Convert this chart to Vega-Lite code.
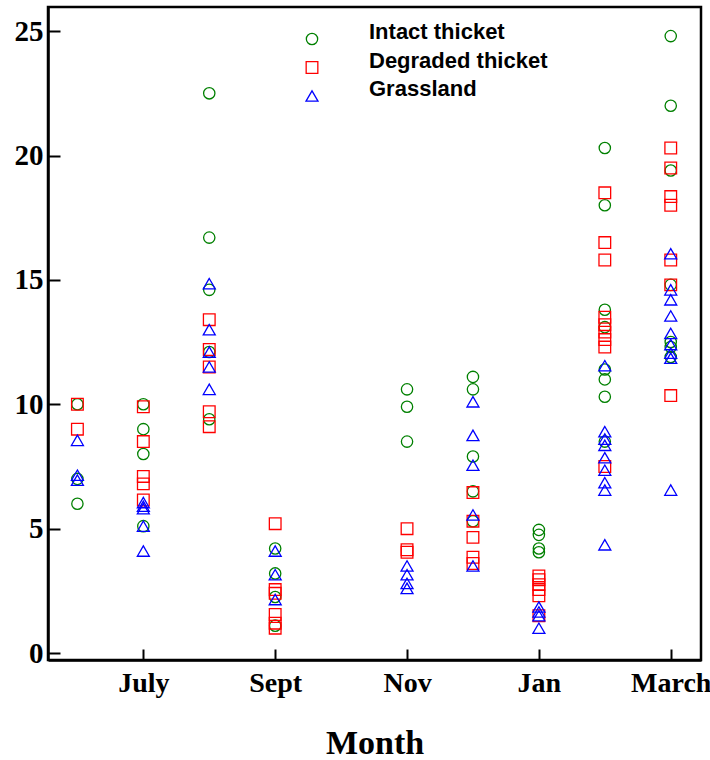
{
  "$schema": "https://vega.github.io/schema/vega-lite/v6.json",
  "autosize": {"type": "none"},
  "padding": {"left": 48, "top": 7, "right": 9, "bottom": 100},
  "width": 653,
  "height": 653,
  "background": "white",
  "config": {
    "view": {"stroke": "black", "strokeWidth": 2.5},
    "axis": {
      "grid": false,
      "domainColor": "black",
      "domainWidth": 2.5,
      "tickColor": "black",
      "tickWidth": 2,
      "labelColor": "black",
      "labelFont": "Liberation Serif",
      "labelFontWeight": "bold",
      "titleColor": "black",
      "titleFont": "Liberation Serif",
      "titleFontWeight": "bold"
    }
  },
  "data": {
    "values": [
      {"m": 0, "site": "Intact thicket", "v": 10.0},
      {"m": 0, "site": "Intact thicket", "v": 7.0},
      {"m": 0, "site": "Intact thicket", "v": 6.0},
      {"m": 0, "site": "Degraded thicket", "v": 10.0},
      {"m": 0, "site": "Degraded thicket", "v": 9.0},
      {"m": 0, "site": "Grassland", "v": 8.55},
      {"m": 0, "site": "Grassland", "v": 7.15},
      {"m": 0, "site": "Grassland", "v": 6.95},

      {"m": 1, "site": "Intact thicket", "v": 10.0},
      {"m": 1, "site": "Intact thicket", "v": 9.0},
      {"m": 1, "site": "Intact thicket", "v": 8.0},
      {"m": 1, "site": "Intact thicket", "v": 5.1},
      {"m": 1, "site": "Degraded thicket", "v": 9.9},
      {"m": 1, "site": "Degraded thicket", "v": 8.5},
      {"m": 1, "site": "Degraded thicket", "v": 7.1},
      {"m": 1, "site": "Degraded thicket", "v": 6.8},
      {"m": 1, "site": "Degraded thicket", "v": 6.15},
      {"m": 1, "site": "Grassland", "v": 6.05},
      {"m": 1, "site": "Grassland", "v": 5.9},
      {"m": 1, "site": "Grassland", "v": 5.8},
      {"m": 1, "site": "Grassland", "v": 5.1},
      {"m": 1, "site": "Grassland", "v": 4.1},

      {"m": 2, "site": "Intact thicket", "v": 22.5},
      {"m": 2, "site": "Intact thicket", "v": 16.7},
      {"m": 2, "site": "Intact thicket", "v": 14.6},
      {"m": 2, "site": "Intact thicket", "v": 12.1},
      {"m": 2, "site": "Intact thicket", "v": 9.4},
      {"m": 2, "site": "Degraded thicket", "v": 13.4},
      {"m": 2, "site": "Degraded thicket", "v": 12.2},
      {"m": 2, "site": "Degraded thicket", "v": 11.5},
      {"m": 2, "site": "Degraded thicket", "v": 9.7},
      {"m": 2, "site": "Degraded thicket", "v": 9.1},
      {"m": 2, "site": "Grassland", "v": 14.85},
      {"m": 2, "site": "Grassland", "v": 13.0},
      {"m": 2, "site": "Grassland", "v": 12.1},
      {"m": 2, "site": "Grassland", "v": 11.5},
      {"m": 2, "site": "Grassland", "v": 10.6},

      {"m": 3, "site": "Intact thicket", "v": 4.2},
      {"m": 3, "site": "Intact thicket", "v": 3.2},
      {"m": 3, "site": "Intact thicket", "v": 2.25},
      {"m": 3, "site": "Intact thicket", "v": 1.1},
      {"m": 3, "site": "Degraded thicket", "v": 5.2},
      {"m": 3, "site": "Degraded thicket", "v": 2.55},
      {"m": 3, "site": "Degraded thicket", "v": 2.4},
      {"m": 3, "site": "Degraded thicket", "v": 1.55},
      {"m": 3, "site": "Degraded thicket", "v": 1.2},
      {"m": 3, "site": "Degraded thicket", "v": 1.0},
      {"m": 3, "site": "Grassland", "v": 4.1},
      {"m": 3, "site": "Grassland", "v": 3.15},
      {"m": 3, "site": "Grassland", "v": 2.15},

      {"m": 5, "site": "Intact thicket", "v": 10.6},
      {"m": 5, "site": "Intact thicket", "v": 9.9},
      {"m": 5, "site": "Intact thicket", "v": 8.5},
      {"m": 5, "site": "Degraded thicket", "v": 5.0},
      {"m": 5, "site": "Degraded thicket", "v": 4.15},
      {"m": 5, "site": "Degraded thicket", "v": 4.05},
      {"m": 5, "site": "Grassland", "v": 3.5},
      {"m": 5, "site": "Grassland", "v": 3.15},
      {"m": 5, "site": "Grassland", "v": 2.8},
      {"m": 5, "site": "Grassland", "v": 2.6},

      {"m": 6, "site": "Intact thicket", "v": 11.1},
      {"m": 6, "site": "Intact thicket", "v": 10.6},
      {"m": 6, "site": "Intact thicket", "v": 7.9},
      {"m": 6, "site": "Intact thicket", "v": 6.5},
      {"m": 6, "site": "Intact thicket", "v": 5.3},
      {"m": 6, "site": "Degraded thicket", "v": 6.45},
      {"m": 6, "site": "Degraded thicket", "v": 5.3},
      {"m": 6, "site": "Degraded thicket", "v": 4.65},
      {"m": 6, "site": "Degraded thicket", "v": 3.85},
      {"m": 6, "site": "Degraded thicket", "v": 3.6},
      {"m": 6, "site": "Grassland", "v": 10.1},
      {"m": 6, "site": "Grassland", "v": 8.75},
      {"m": 6, "site": "Grassland", "v": 7.55},
      {"m": 6, "site": "Grassland", "v": 5.55},
      {"m": 6, "site": "Grassland", "v": 3.5},

      {"m": 7, "site": "Intact thicket", "v": 4.95},
      {"m": 7, "site": "Intact thicket", "v": 4.75},
      {"m": 7, "site": "Intact thicket", "v": 4.2},
      {"m": 7, "site": "Intact thicket", "v": 4.05},
      {"m": 7, "site": "Degraded thicket", "v": 3.1},
      {"m": 7, "site": "Degraded thicket", "v": 2.95},
      {"m": 7, "site": "Degraded thicket", "v": 2.75},
      {"m": 7, "site": "Degraded thicket", "v": 2.55},
      {"m": 7, "site": "Degraded thicket", "v": 2.3},
      {"m": 7, "site": "Degraded thicket", "v": 1.5},
      {"m": 7, "site": "Grassland", "v": 1.85},
      {"m": 7, "site": "Grassland", "v": 1.65},
      {"m": 7, "site": "Grassland", "v": 1.5},
      {"m": 7, "site": "Grassland", "v": 1.0},

      {"m": 8, "site": "Intact thicket", "v": 20.3},
      {"m": 8, "site": "Intact thicket", "v": 18.0},
      {"m": 8, "site": "Intact thicket", "v": 13.8},
      {"m": 8, "site": "Intact thicket", "v": 13.1},
      {"m": 8, "site": "Intact thicket", "v": 11.4},
      {"m": 8, "site": "Intact thicket", "v": 11.0},
      {"m": 8, "site": "Intact thicket", "v": 10.3},
      {"m": 8, "site": "Intact thicket", "v": 8.5},
      {"m": 8, "site": "Degraded thicket", "v": 18.5},
      {"m": 8, "site": "Degraded thicket", "v": 16.5},
      {"m": 8, "site": "Degraded thicket", "v": 15.8},
      {"m": 8, "site": "Degraded thicket", "v": 13.5},
      {"m": 8, "site": "Degraded thicket", "v": 13.2},
      {"m": 8, "site": "Degraded thicket", "v": 12.9},
      {"m": 8, "site": "Degraded thicket", "v": 12.6},
      {"m": 8, "site": "Degraded thicket", "v": 12.3},
      {"m": 8, "site": "Degraded thicket", "v": 7.5},
      {"m": 8, "site": "Grassland", "v": 11.55},
      {"m": 8, "site": "Grassland", "v": 8.9},
      {"m": 8, "site": "Grassland", "v": 8.6},
      {"m": 8, "site": "Grassland", "v": 8.35},
      {"m": 8, "site": "Grassland", "v": 7.85},
      {"m": 8, "site": "Grassland", "v": 7.35},
      {"m": 8, "site": "Grassland", "v": 6.85},
      {"m": 8, "site": "Grassland", "v": 6.55},
      {"m": 8, "site": "Grassland", "v": 4.35},

      {"m": 9, "site": "Intact thicket", "v": 24.8},
      {"m": 9, "site": "Intact thicket", "v": 22.0},
      {"m": 9, "site": "Intact thicket", "v": 19.4},
      {"m": 9, "site": "Intact thicket", "v": 14.8},
      {"m": 9, "site": "Intact thicket", "v": 12.5},
      {"m": 9, "site": "Intact thicket", "v": 12.3},
      {"m": 9, "site": "Intact thicket", "v": 11.9},
      {"m": 9, "site": "Degraded thicket", "v": 20.3},
      {"m": 9, "site": "Degraded thicket", "v": 19.5},
      {"m": 9, "site": "Degraded thicket", "v": 18.35},
      {"m": 9, "site": "Degraded thicket", "v": 18.0},
      {"m": 9, "site": "Degraded thicket", "v": 15.8},
      {"m": 9, "site": "Degraded thicket", "v": 14.8},
      {"m": 9, "site": "Degraded thicket", "v": 10.35},
      {"m": 9, "site": "Grassland", "v": 16.05},
      {"m": 9, "site": "Grassland", "v": 14.6},
      {"m": 9, "site": "Grassland", "v": 14.2},
      {"m": 9, "site": "Grassland", "v": 13.55},
      {"m": 9, "site": "Grassland", "v": 12.85},
      {"m": 9, "site": "Grassland", "v": 12.4},
      {"m": 9, "site": "Grassland", "v": 12.05},
      {"m": 9, "site": "Grassland", "v": 11.85},
      {"m": 9, "site": "Grassland", "v": 6.55}
    ]
  },
  "mark": {"type": "point", "filled": false, "strokeWidth": 1.3, "opacity": 1},
  "encoding": {
    "x": {
      "field": "m",
      "type": "quantitative",
      "scale": {"domain": [-0.446, 9.459], "nice": false, "zero": false},
      "axis": {
        "values": [1, 3, 5, 7, 9],
        "labelExpr": "datum.value == 1 ? 'July' : datum.value == 3 ? 'Sept' : datum.value == 5 ? 'Nov' : datum.value == 7 ? 'Jan' : 'March'",
        "tickSize": -11,
        "labelPadding": 20,
        "labelFontSize": 28,
        "labelFlush": false,
        "title": "Month",
        "titleFontSize": 34,
        "titlePadding": 29
      }
    },
    "y": {
      "field": "v",
      "type": "quantitative",
      "scale": {"domain": [-0.28, 25.97], "nice": false, "zero": false},
      "axis": {
        "values": [0, 5, 10, 15, 20, 25],
        "tickSize": -12,
        "labelPadding": 17,
        "labelFontSize": 29,
        "labelFlush": false,
        "title": null
      }
    },
    "color": {
      "field": "site",
      "type": "nominal",
      "scale": {
        "domain": ["Intact thicket", "Degraded thicket", "Grassland"],
        "range": ["#008000", "#ff0000", "#0000ff"]
      },
      "legend": {
        "title": null,
        "orient": "none",
        "legendX": 253,
        "legendY": 21,
        "labelFont": "Liberation Sans",
        "labelFontWeight": "bold",
        "labelFontSize": 22,
        "labelColor": "black",
        "labelBaseline": "alphabetic",
        "labelOffset": 46,
        "labelLimit": 0,
        "symbolStrokeWidth": 1.3,
        "rowPadding": 1.5,
        "padding": 0
      }
    },
    "shape": {
      "field": "site",
      "type": "nominal",
      "scale": {
        "domain": ["Intact thicket", "Degraded thicket", "Grassland"],
        "range": ["circle", "square", "triangle-up"]
      }
    },
    "size": {
      "field": "site",
      "type": "nominal",
      "scale": {
        "domain": ["Intact thicket", "Degraded thicket", "Grassland"],
        "range": [128, 144, 210]
      }
    }
  }
}
